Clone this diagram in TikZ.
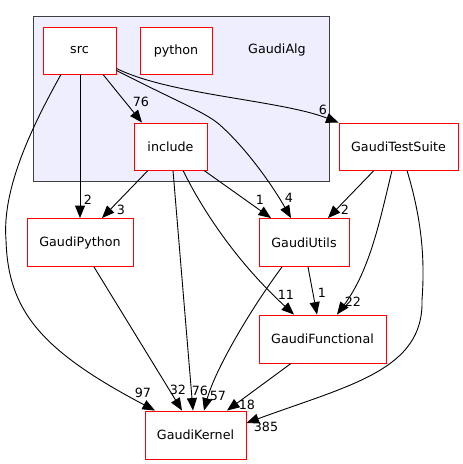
\documentclass[tikz,border=0pt]{standalone}
\usepackage{fontspec}
\setmainfont{DejaVu Sans}
\usetikzlibrary{arrows.meta}
\definecolor{dirfill}{HTML}{EEEEFF}
\definecolor{dirline}{HTML}{404040}

\begin{document}
\begin{tikzpicture}[x=1pt, y=-1pt,
		font=\fontsize{12.7}{15}\selectfont,
		dir/.style={draw=red, line width=0.9pt, fill=white, minimum height=47pt, inner sep=0pt},
		dep/.style={line width=0.9pt, -{Triangle[length=12.5pt, width=10pt]}},
		cnt/.style={inner sep=0pt}]
		%%%%% START %%%%%
		\useasboundingbox (0,0) rectangle (463,464);
		
		\draw[fill=dirfill, draw=dirline, line width=0.9pt] (33,16) rectangle (329,181);
		\node (galg) at (277,50) {GaudiAlg};
		
		\node[dir, minimum width=73pt] (src) at (79.5,50.5) {src};
		\node[dir, minimum width=72pt] (python) at (176,50.5) {python};
		\node[dir, minimum width=73pt] (include) at (170.5,146.5) {include};
		\node[dir, minimum width=119pt] (suite) at (398.5,146.5) {GaudiTestSuite};
		\node[dir, minimum width=90pt, minimum height=48pt] (utils) at (304,242.5) {GaudiUtils};
		\node[dir, minimum width=106pt, minimum height=48pt] (gpython) at (80,242.5) {GaudiPython};
		\node[dir, minimum width=127pt, minimum height=48pt] (functional) at (322.5,339) {GaudiFunctional};
		\node[dir, minimum width=101pt, minimum height=48pt] (kernel) at (195.5,435) {GaudiKernel};
		
		% from src
		\draw[dep] ([xshift=23.5]src.south) -- ([xshift=-28.5]include.north);
		\draw[dep] ([xshift=0.5]src.south) -- (gpython.north);
		\draw[dep] ([xshift=-18.5]src.south) .. controls (30,130) and (2,190) .. (6,240)
			.. controls (8,310) and (40,350) .. ([xshift=-40.5]kernel.north);
		\draw[dep] ([yshift=4]src.south east) .. controls (180,103) and (205,112) .. (220,125)
			.. controls (250,152) and (275,190) .. ([xshift=-13]utils.north);
		\draw[dep] ([yshift=6]src.south east) .. controls (170,95) and (280,100) .. (suite.north west);
		
		% from include
		\draw[dep] ([xshift=-22.5]include.south) -- ([xshift=22]gpython.north);
		\draw[dep] ([xshift=2.5]include.south) -- ([xshift=-2.5]kernel.north);
		\draw[dep] ([xshift=12.5]include.south) .. controls (205,215) and (240,265) .. ([xshift=-28.5]functional.north);
		\draw[dep] ([xshift=33.5]include.south) -- ([xshift=-33]utils.north);
		
		% from GaudiTestSuite
		\draw[dep] ([xshift=-24.5]suite.south) -- ([xshift=24]utils.north);
		\draw[dep] ([xshift=-6.5]suite.south) .. controls (380,220) and (370,270) .. ([xshift=14.5]functional.north);
		\draw[dep] ([xshift=8.5]suite.south) .. controls (422,220) and (425,260) .. (422,300)
			.. controls (424,370) and (350,385) .. ([yshift=12]kernel.east);
		
		% the rest
		\draw[dep] ([xshift=-22]utils.south) .. controls (250,310) and (215,370) .. ([xshift=8.5]kernel.north);
		\draw[dep] ([xshift=4]utils.south) -- ([xshift=-5.5]functional.north);
		\draw[dep] ([xshift=-31.5]functional.south) -- ([xshift=31.5]kernel.north);
		\draw[dep] ([xshift=14]gpython.south) -- ([xshift=-13.5]kernel.north);
		
		% counts
		\node[cnt] (ninc) at (141,102) {76};
		\node[cnt] (nsrcpy) at (88,200) {2};
		\node[cnt] (nincpy) at (121,210) {3};
		\node[cnt] (nsuite) at (323,110) {6};
		\node[cnt] (nincut) at (260,200) {1};
		\node[cnt] (nsrcut) at (289,198) {4};
		\node[cnt] (nsuiteut) at (345,210) {2};
		\node[cnt] (nsrcke) at (143,393) {97};
		\node[cnt] (npyke) at (178,390) {32};
		\node[cnt] (nincke) at (200,391) {76};
		\node[cnt] (nutke) at (218,396) {57};
		\node[cnt] (nincfu) at (286,295) {11};
		\node[cnt] (nutfu) at (322,293) {1};
		\node[cnt] (nsuitefu) at (353,302) {22};
		\node[cnt] (nfuke) at (247,405) {18};
		\node[cnt] (nsuiteke) at (266,427) {385};
		%%%%% END %%%%%
\end{tikzpicture}
\end{document}
